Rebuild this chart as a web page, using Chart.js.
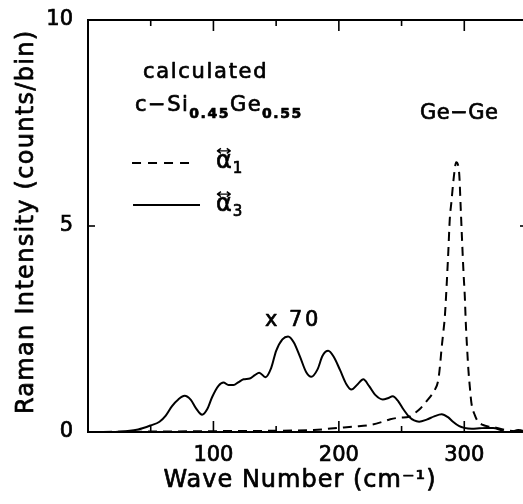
<!DOCTYPE html>
<html>
<head>
<meta charset="utf-8">
<script src="https://cdn.jsdelivr.net/npm/chart.js@4.4.1/dist/chart.umd.min.js"></script>
<style>
  html, body { margin: 0; padding: 0; background: #fff; overflow: hidden; }
  canvas { display: block; }
</style>
</head>
<body>
<canvas id="raman" width="530" height="504"></canvas>
<script>
// Calculated Raman spectrum of c-Si0.45Ge0.55 (intensity in counts/bin)

// alpha-3 component (shown magnified x70)
const alpha3Wave = [0, 10, 20, 30, 40, 50, 57, 62, 67, 72, 77, 82, 86, 91, 95, 99, 104, 108, 112, 116,
  120, 124, 129, 133, 136.5, 141.5, 146, 150, 155, 159.5, 164, 169, 174, 178, 183, 187, 191.5, 196,
  201, 206, 210, 215, 219.5, 224, 229, 235, 239, 243, 247, 251, 256, 260, 264, 270, 276, 282, 287,
  291, 296, 300, 306, 312, 318, 323, 328, 333, 338, 343, 350];
const alpha3Intensity = [0, 0, 0, 0.02, 0.06, 0.16, 0.25, 0.40, 0.63, 0.79, 0.88, 0.78, 0.58, 0.42, 0.55, 0.85, 1.12, 1.20, 1.14, 1.14,
  1.21, 1.28, 1.30, 1.38, 1.44, 1.33, 1.55, 1.97, 2.25, 2.32, 2.18, 1.83, 1.45, 1.34, 1.52, 1.85, 1.97, 1.82,
  1.50, 1.16, 1.03, 1.16, 1.28, 1.12, 0.90, 0.79, 0.82, 0.87, 0.76, 0.57, 0.37, 0.28, 0.25, 0.30, 0.38, 0.43, 0.36,
  0.25, 0.14, 0.10, 0.08, 0.09, 0.10, 0.10, 0.06, -0.01, 0.0, 0.05, 0.0];

// alpha-1 component (Ge-Ge peak)
const alpha1Wave = [0, 50, 100, 150, 180, 200, 212, 225, 235, 241, 249, 256, 261, 265, 270, 274, 276.5,
  279.3, 281, 281.8, 283.2, 284.5, 286, 287.3, 288.4, 289.8, 291, 292.3, 293.5, 295.9, 297.2, 298.3,
  299.5, 300.4, 301.2, 302.5, 303.3, 304.4, 305.7, 308.4, 311, 315, 320, 326, 331, 340, 350];
const alpha1Intensity = [0, 0.01, 0.02, 0.03, 0.05, 0.10, 0.13, 0.17, 0.25, 0.31, 0.35, 0.37, 0.47, 0.57, 0.75, 0.90, 1.02,
  1.27, 1.72, 2.0, 2.4, 2.8, 3.6, 4.4, 5.15, 5.6, 6.0, 6.35, 6.55, 6.29, 5.4, 4.6,
  3.8, 3.3, 2.65, 1.9, 1.5, 1.1, 0.7, 0.41, 0.25, 0.17, 0.13, 0.10, 0.06, 0.02, 0.0];

// axis tick labels
const xTickLabels = [100, 200, 300];
const yTickLabels = [0, 5, 10];

const xTitle = 'Wave Number (cm⁻¹)';
const yTitle = 'Raman Intensity (counts/bin)';

const FONT = '"DejaVu Sans", sans-serif';
const TEXT_STROKE = 0.7;

function toPoints(xs, ys) {
  return xs.map((x, i) => ({ x: x, y: ys[i] }));
}

// inward tick marks on all four sides of the frame
const inwardTicks = {
  id: 'inwardTicks',
  afterDraw(chart) {
    const { ctx, chartArea: a, scales: { x, y } } = chart;
    ctx.save();
    ctx.strokeStyle = '#000';
    ctx.lineWidth = 1.6;
    const seg = (x0, y0, x1, y1) => {
      ctx.beginPath(); ctx.moveTo(x0, y0); ctx.lineTo(x1, y1); ctx.stroke();
    };
    x.ticks.forEach(t => {
      if (t.value <= x.min || t.value >= x.max) return;
      const px = x.getPixelForValue(t.value);
      const len = t.value % 100 === 0 ? 11 : 6;
      seg(px, a.bottom, px, a.bottom - len);
      seg(px, a.top, px, a.top + len);
    });
    y.ticks.forEach(t => {
      if (t.value <= y.min || t.value >= y.max) return;
      const py = y.getPixelForValue(t.value);
      seg(a.left, py, a.left + 7, py);
      seg(a.right, py, a.right - 7, py);
    });
    ctx.restore();
  }
};

// axis titles, in-plot text and the line-style key
const annotations = {
  id: 'annotations',
  afterDraw(chart) {
    const { ctx, chartArea: a, scales: { x, y } } = chart;
    const X = v => x.getPixelForValue(v);
    const Y = v => y.getPixelForValue(v);
    ctx.save();
    ctx.fillStyle = '#000';
    ctx.strokeStyle = '#000';
    ctx.lineJoin = 'round';
    ctx.textBaseline = 'alphabetic';
    ctx.textAlign = 'left';

    // filled text with a thin outline to give the heavier print weight
    const ink = (text, px, py) => {
      ctx.lineWidth = TEXT_STROKE;
      ctx.strokeText(text, px, py);
      ctx.fillText(text, px, py);
    };
    const put = (text, font, spacing, px, py) => {
      ctx.font = font;
      ctx.letterSpacing = spacing;
      ink(text, px, py);
      return ctx.measureText(text).width;
    };

    // axis titles
    ctx.textAlign = 'center';
    put(xTitle, '24px ' + FONT, '1px', X(169), a.bottom + 55);
    ctx.save();
    ctx.translate(33, Y(5.1));
    ctx.rotate(-Math.PI / 2);
    put(yTitle, '24px ' + FONT, '1.3px', 0, 0);
    ctx.restore();
    ctx.textAlign = 'left';

    const main = '21px ' + FONT;
    const sub = 'bold 14px ' + FONT;

    put('calculated', main, '1.7px', X(43.8), Y(8.59));

    // c−Si0.45Ge0.55 with subscripts
    let cx = X(37.5);
    const base = Y(7.79);
    cx += put('c−Si', main, '1.5px', cx, base);
    cx += put('0.45', sub, '1.5px', cx, base + 7);
    cx += put('Ge', main, '1.5px', cx, base);
    put('0.55', sub, '1.5px', cx, base + 7);

    put('Ge−Ge', main, '0.5px', X(264.7), Y(7.60));
    put('x 70', main, '2.5px', X(141.1), Y(2.57));

    // key lines
    ctx.letterSpacing = '0px';
    ctx.lineWidth = 2;
    ctx.setLineDash([9, 7]);
    ctx.beginPath(); ctx.moveTo(X(35.1), Y(6.53)); ctx.lineTo(X(84.5), Y(6.53)); ctx.stroke();
    ctx.setLineDash([]);
    ctx.beginPath(); ctx.moveTo(X(35.9), Y(5.51)); ctx.lineTo(X(89.3), Y(5.51)); ctx.stroke();

    // key symbols: alpha with a two-headed arrow above and a subscript
    const symbol = (idx, px, py) => {
      ctx.font = '24px ' + FONT;
      ink('α', px, py);
      const w = ctx.measureText('α').width;
      const ay = py - 17, x0 = px + 1.5, x1 = px + w - 1.5;
      ctx.lineWidth = 1.4;
      ctx.beginPath();
      ctx.moveTo(x0, ay); ctx.lineTo(x1, ay);
      ctx.moveTo(x0 + 3.5, ay - 2.5); ctx.lineTo(x0, ay); ctx.lineTo(x0 + 3.5, ay + 2.5);
      ctx.moveTo(x1 - 3.5, ay - 2.5); ctx.lineTo(x1, ay); ctx.lineTo(x1 - 3.5, ay + 2.5);
      ctx.stroke();
      ctx.font = '15px ' + FONT;
      ink(idx, px + w + 1, py + 5);
    };
    symbol('1', X(102), Y(6.41));
    symbol('3', X(102), Y(5.36));
    ctx.restore();
  }
};

const hiddenTicks = { display: false };

new Chart(document.getElementById('raman'), {
  type: 'line',
  data: {
    datasets: [
      {
        label: 'α1',
        data: toPoints(alpha1Wave, alpha1Intensity),
        borderColor: '#000',
        borderWidth: 2,
        borderDash: [9, 6],
        pointRadius: 0,
        cubicInterpolationMode: 'monotone',
        fill: false
      },
      {
        label: 'α3 (x70)',
        data: toPoints(alpha3Wave, alpha3Intensity),
        borderColor: '#000',
        borderWidth: 2,
        pointRadius: 0,
        cubicInterpolationMode: 'monotone',
        fill: false
      }
    ]
  },
  options: {
    responsive: false,
    animation: false,
    devicePixelRatio: 1,
    layout: { padding: 0 },
    plugins: { legend: { display: false }, tooltip: { enabled: false } },
    scales: {
      x: {
        type: 'linear',
        position: 'bottom',
        min: 0,
        max: 350,
        grid: { display: false, drawTicks: false },
        border: { display: true, color: '#000', width: 2 },
        ticks: {
          stepSize: 50,
          padding: 11,
          color: '#000',
          textStrokeColor: '#000',
          textStrokeWidth: TEXT_STROKE,
          font: { family: FONT, size: 21 },
          maxRotation: 0,
          autoSkip: false,
          callback: v => xTickLabels.includes(v) ? String(v) : ''
        },
        afterFit: s => { s.height = 72; s.paddingLeft = 0; s.paddingRight = 0; }
      },
      xTop: {
        type: 'linear',
        position: 'top',
        min: 0,
        max: 350,
        grid: { display: false, drawTicks: false },
        border: { display: true, color: '#000', width: 2 },
        ticks: hiddenTicks,
        afterFit: s => { s.height = 20; s.paddingLeft = 0; s.paddingRight = 0; }
      },
      y: {
        type: 'linear',
        position: 'left',
        min: 0,
        max: 10,
        grid: { display: false, drawTicks: false },
        border: { display: true, color: '#000', width: 2 },
        ticks: {
          stepSize: 5,
          padding: 15,
          color: '#000',
          textStrokeColor: '#000',
          textStrokeWidth: TEXT_STROKE,
          font: { family: FONT, size: 21 },
          callback: v => yTickLabels.includes(v) ? String(v) : ''
        },
        afterFit: s => { s.width = 88; s.paddingTop = 0; s.paddingBottom = 0; }
      },
      yRight: {
        type: 'linear',
        position: 'right',
        min: 0,
        max: 10,
        grid: { display: false, drawTicks: false },
        border: { display: true, color: '#000', width: 2 },
        ticks: hiddenTicks,
        afterFit: s => { s.width = 3; s.paddingTop = 0; s.paddingBottom = 0; }
      }
    }
  },
  plugins: [inwardTicks, annotations]
});
</script>
</body>
</html>
